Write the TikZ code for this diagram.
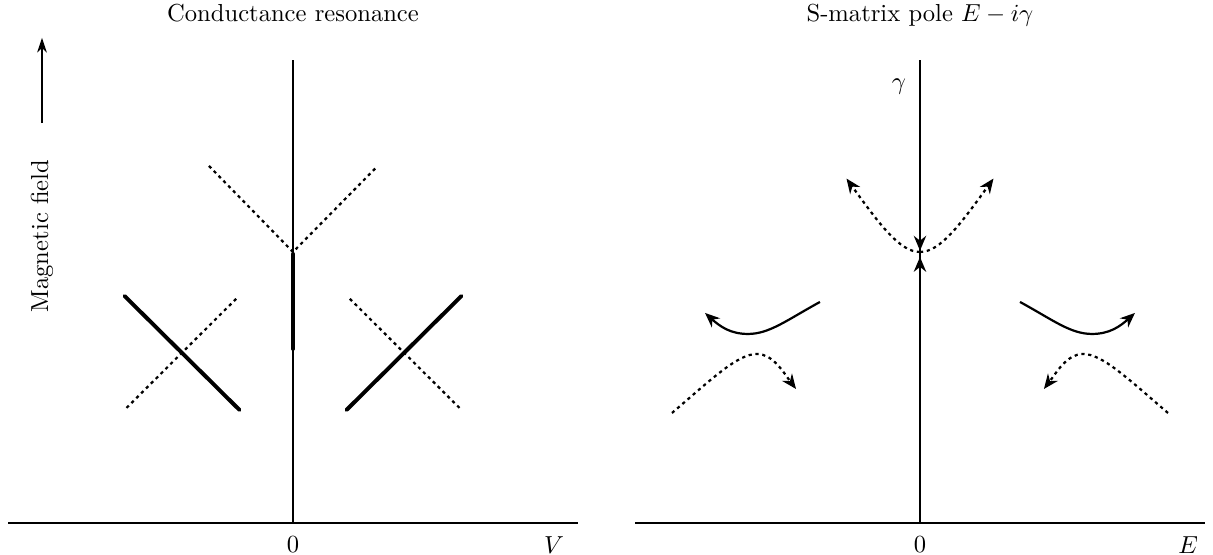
\documentclass[tikz,border=0pt]{standalone}
\usetikzlibrary{arrows.meta}

\tikzset{
  axis/.style={line width=0.6pt},
  heavy/.style={line width=1.6pt, line cap=round},
  dotline/.style={line width=0.9pt, dash pattern=on 1.3pt off 1.5pt},
  curve/.style={line width=0.9pt},
  tip/.style={-{Stealth[length=6pt,width=5pt]}},
  title/.style={inner sep=0.5pt, anchor=base},
}

\begin{document}
\begin{tikzpicture}
  \useasboundingbox (-4.186,-0.457) rectangle (13.143,7.471);

  % axes of both panels
  \foreach \ox/\nm/\lab/\lx in {0/L/V/3.73, 8.957/R/E/3.83} {
      \coordinate (o\nm) at (\ox,0);
      \coordinate (top\nm) at (\ox,6.61);
      \draw[axis] (\ox-4.07,0) -- (\ox+4.07,0);
      \draw[axis] (o\nm) -- (top\nm);
      \node (zero\nm) at (\ox,-0.31) {$0$};
      \node (var\nm) at (\ox+\lx,-0.31) {$\lab$};
    }

  % panel titles
  \node[title] (titleL) at (0,7.16) {Conductance resonance};
  \node[title] (titleR) at (8.957,7.16) {S-matrix pole $E-i\gamma$};

  % field direction on the left
  \node[rotate=90] (field) at (-3.586,4.1) {Magnetic field};
  \coordinate (fieldtip) at (-3.586,6.93);
  \draw[line width=0.5pt, -{Stealth[length=6pt,width=4pt]}]
  ([yshift=0.4cm]field.east) -- (fieldtip);

  % conductance: dotted V and the thick segment under it
  \coordinate (apexL) at (0,3.871);
  \draw[dotline] (-1.2,5.1) -- (apexL) -- (1.2,5.09);
  \draw[heavy] (0,3.843) -- (0,2.486);

  % crossings on both sides
  \foreach \s in {1,-1} {
      \begin{scope}[xscale=\s]
        \draw[heavy] (-2.407,3.243) -- (-0.764,1.614);
        \draw[dotline] (-2.379,1.643) -- (-0.8,3.214);
      \end{scope}
    }

  % pole trajectories
  \begin{scope}[xshift=8.957cm]
    \node (gam) at (-0.3,6.23) {$\gamma$};
    \coordinate (apexR) at (0,3.871);
    \draw[line width=1.2pt, tip] (0,5.629) -- (0,3.89);
    \draw[line width=1.2pt, tip] (0,2.214) -- (0,3.8);
    \foreach \s in {1,-1} {
        \begin{scope}[xscale=\s]
          \draw[dotline, tip] (apexR) .. controls (-0.286,3.871) and (-0.571,4.257) .. (-1.05,4.92);
          \draw[curve, tip] (-1.429,3.157) .. controls (-1.9,2.9) and (-2.15,2.7) .. (-2.457,2.7)
          .. controls (-2.7,2.7) and (-2.85,2.8) .. (-3.071,3.0);
          \draw[dotline, tip] (-3.543,1.571) .. controls (-2.95,2.08) and (-2.6,2.414) .. (-2.329,2.414)
          .. controls (-2.1,2.414) and (-1.95,2.15) .. (-1.771,1.914);
        \end{scope}
      }
  \end{scope}
\end{tikzpicture}
\end{document}
